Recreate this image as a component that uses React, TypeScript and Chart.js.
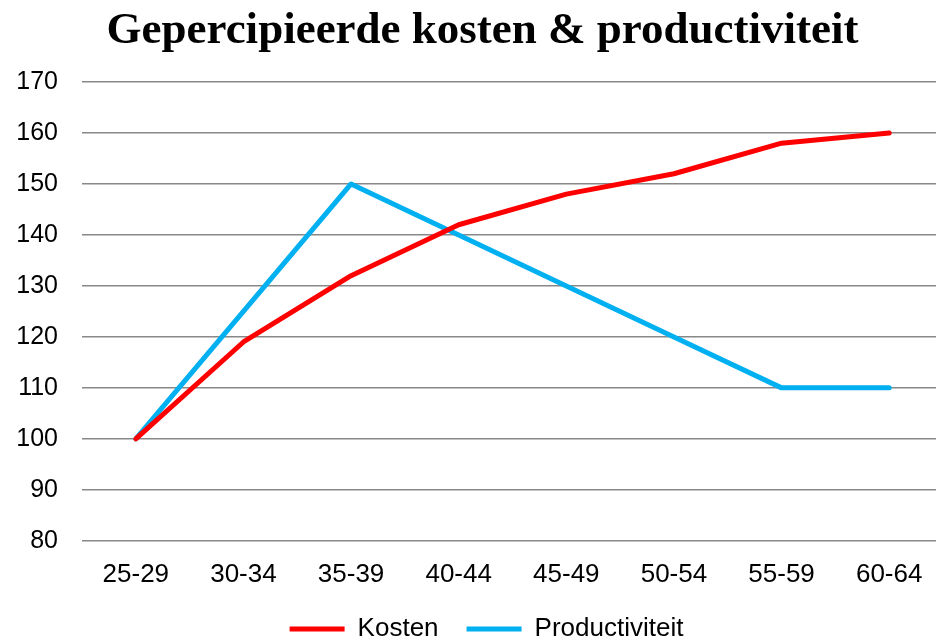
import React, { useEffect, useRef } from "react";
import { Chart, registerables } from "chart.js";

Chart.register(...registerables);

const categories = ["25-29", "30-34", "35-39", "40-44", "45-49", "50-54", "55-59", "60-64"];
const kosten = [100, 119, 132, 142, 148, 152, 158, 160];
const productiviteit = [100, 125, 150, 140, 130, 120, 110, 110];
const titleText = "Gepercipieerde kosten & productiviteit";

const shiftPlugin = {
  id: "shiftBlocks",
  afterLayout(chart: any) {
    const l = chart.legend;
    if (l) {
      l.left += 7;
      l.right += 7;
    }
    const t = chart.titleBlock;
    if (t) {
      t.left += 3;
      t.right += 3;
    }
  },
};

export default function App() {
  const ref = useRef<HTMLCanvasElement | null>(null);

  useEffect(() => {
    if (!ref.current) return;
    const chart = new Chart(ref.current, {
      type: "line",
      data: {
        labels: categories,
        datasets: [
          {
            label: "Kosten",
            data: kosten,
            borderColor: "#FF0000",
            backgroundColor: "#FF0000",
            borderWidth: 5,
            pointRadius: 0,
            tension: 0,
            borderCapStyle: "round",
            borderJoinStyle: "round",
          },
          {
            label: "Productiviteit",
            data: productiviteit,
            borderColor: "#00B0F0",
            backgroundColor: "#00B0F0",
            borderWidth: 5,
            pointRadius: 0,
            tension: 0,
            borderCapStyle: "round",
            borderJoinStyle: "round",
          },
        ],
      },
      plugins: [shiftPlugin],
      options: {
        animation: false,
        responsive: true,
        maintainAspectRatio: false,
        layout: { padding: { left: 16, right: 0, top: 0, bottom: 0 } },
        plugins: {
          title: {
            display: true,
            text: titleText,
            color: "#000",
            font: { family: "'Liberation Serif', serif", size: 45, weight: "bold" },
            padding: { top: 4, bottom: 24 },
          },
          legend: {
            position: "bottom",
            labels: {
              usePointStyle: true,
              pointStyle: "line",
              pointStyleWidth: 55,
              color: "#000",
              font: { family: "'Liberation Sans', Arial, sans-serif", size: 26 },
              padding: 28,
            },
          },
          tooltip: { enabled: false },
        },
        scales: {
          x: {
            offset: true,
            grid: { display: false, drawTicks: false },
            border: { display: false },
            afterFit: (scale: any) => {
              scale.height -= 20;
            },
            ticks: {
              color: "#000",
              font: { family: "'Liberation Sans', Arial, sans-serif", size: 26 },
              padding: 18,
              maxRotation: 0,
            },
          },
          y: {
            min: 80,
            max: 170,
            grid: { color: "#888888", lineWidth: 1.6, drawTicks: false },
            border: { display: false },
            afterFit: (scale: any) => {
              scale.width = 66;
            },
            ticks: {
              stepSize: 10,
              color: "#000",
              font: { family: "'Liberation Sans', Arial, sans-serif", size: 25 },
              padding: 24,
            },
          },
        },
      },
    });
    return () => chart.destroy();
  }, []);

  return (
    <div style={{ position: "fixed", left: 0, top: 0, width: 936, height: 638, overflow: "hidden", background: "#fff" }}>
      <div style={{ position: "absolute", left: 0, top: 0, width: 943, height: 652 }}>
        <canvas ref={ref} />
      </div>
    </div>
  );
}
